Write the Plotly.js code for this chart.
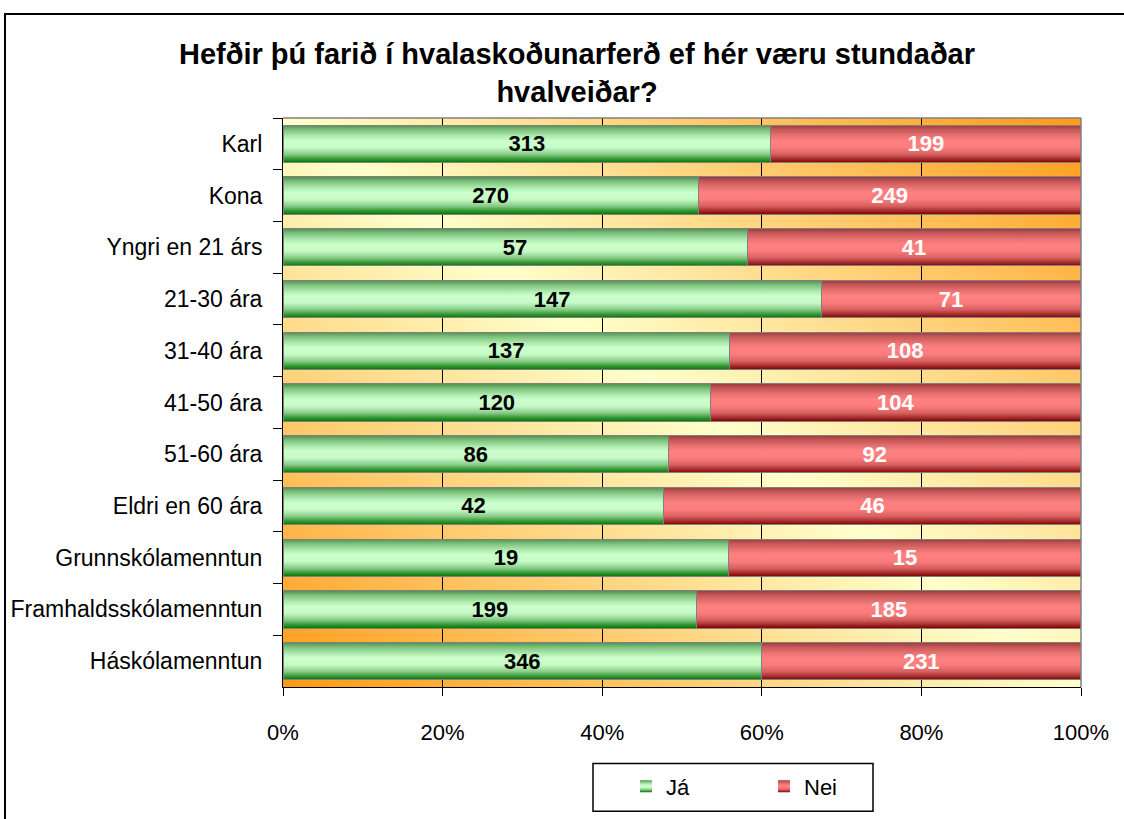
<!DOCTYPE html>
<html><head><meta charset="utf-8">
<script src="https://cdn.plot.ly/plotly-3.0.1.min.js"></script>
<style>
html,body{margin:0;padding:0;background:#fff;overflow:hidden;}
#chart{position:absolute;left:0;top:0;width:1124px;height:819px;}
#frame{position:absolute;left:4px;top:13px;width:1140px;height:830px;border-top:2px solid #000;border-left:2px solid #000;pointer-events:none;}
</style></head><body>
<div id="chart"></div><div id="frame"></div>
<script>
const categories = ['Karl','Kona','Yngri en 21 árs','21-30 ára','31-40 ára','41-50 ára','51-60 ára','Eldri en 60 ára','Grunnskólamenntun','Framhaldsskólamenntun','Háskólamenntun'];
const jaCounts  = [313,270,57,147,137,120,86,42,19,199,346];
const neiCounts = [199,249,41,71,108,104,92,46,15,185,231];
const seriesNames = ['Já','Nei'];
const xTickVals = [0,20,40,60,80,100];
const xTickText = ['0%','20%','40%','60%','80%','100%'];
const titleText = 'Hefðir þú farið í hvalaskoðunarferð ef hér væru stundaðar<br>hvalveiðar?';

const totals = jaCounts.map((v,i)=>v+neiCounts[i]);
const jaPct = jaCounts.map((v,i)=>v/totals[i]*100);
const neiPct = neiCounts.map((v,i)=>v/totals[i]*100);

const FONT = 'Liberation Sans, Arial, sans-serif';

const traces = [
  {type:'bar', orientation:'h', name:seriesNames[0], y:categories, x:jaPct, customdata:jaCounts,
   texttemplate:'%{customdata}', textposition:'inside', insidetextanchor:'middle',
   textfont:{family:FONT, size:22, color:'#000', weight:'bold'},
   marker:{color:'#ccffcc', line:{color:'#808080', width:1}}, hoverinfo:'skip'},
  {type:'bar', orientation:'h', name:seriesNames[1], y:categories, x:neiPct, customdata:neiCounts,
   texttemplate:'%{customdata}', textposition:'inside', insidetextanchor:'middle',
   textfont:{family:FONT, size:22, color:'#fff', weight:'bold'},
   marker:{color:'#ff8080', line:{color:'#808080', width:1}}, hoverinfo:'skip'}
];

const bgSvg = "<svg xmlns='http://www.w3.org/2000/svg' width='100' height='100' viewBox='0 0 100 100' preserveAspectRatio='none'>" +
  "<defs><linearGradient id='b' x1='1' y1='0' x2='0' y2='1'>" +
  "<stop offset='0' stop-color='#ff9914'/><stop offset='0.5' stop-color='#ffffcc'/><stop offset='1' stop-color='#ff9914'/>" +
  "</linearGradient></defs><rect width='100' height='100' fill='url(#b)'/></svg>";

const PL=283, PR=1081, PT=118, PB=690;
const px2x = v => (v-PL)/(PR-PL);
const px2y = v => (PB-v)/(PB-PT);

const layout = {
  width:1124, height:819,
  paper_bgcolor:'rgba(0,0,0,0)', plot_bgcolor:'rgba(0,0,0,0)',
  margin:{l:PL, r:1124-PR, t:PT, b:819-PB},
  barmode:'stack', bargap:0.28,
  font:{family:FONT, size:22, color:'#000'},
  title:{text:titleText, font:{family:FONT, size:29, color:'#000', weight:'bold'},
         x:577/1124, xref:'container', xanchor:'center', y:1-64/819, yref:'container', yanchor:'top'},
  xaxis:{range:[0,100], tickvals:xTickVals, ticktext:xTickText, showgrid:true, gridcolor:'#000', gridwidth:1,
         showline:true, linecolor:'#000', linewidth:1, ticks:'outside', ticklen:8, tickcolor:'#000',
         tickfont:{family:FONT, size:22, color:'#000'}, ticklabelstandoff:18, zeroline:false, fixedrange:true},
  yaxis:{type:'category', autorange:'reversed', tickson:'boundaries', ticks:'outside', ticklen:9, tickcolor:'#000',
         showline:true, linecolor:'#000', linewidth:1, showgrid:false, zeroline:false,
         tickfont:{family:FONT, size:23, color:'#000'}, ticklabelstandoff:15, fixedrange:true},
  legend:{orientation:'h', x:px2x(626), xanchor:'left', y:px2y(790), yanchor:'middle',
          bgcolor:'rgba(0,0,0,0)', borderwidth:0, font:{family:FONT, size:22, color:'#000'},
          entrywidth:93, traceorder:'normal'},
  images:[{source:'data:image/svg+xml;utf8,'+encodeURIComponent(bgSvg), xref:'paper', yref:'paper',
           x:0, y:1, sizex:1, sizey:1, xanchor:'left', yanchor:'top', sizing:'stretch', layer:'below'}],
  shapes:[
    {type:'line', xref:'paper', yref:'paper', x0:0, x1:1, y0:1, y1:1, line:{color:'#808080', width:1.5}, layer:'above'},
    {type:'line', xref:'paper', yref:'paper', x0:1, x1:1, y0:0, y1:1, line:{color:'#808080', width:1.5}, layer:'above'},
    {type:'rect', xref:'paper', yref:'paper', x0:px2x(593), x1:px2x(873), y0:px2y(815), y1:px2y(767),
     line:{color:'#000', width:1.5}, fillcolor:'#fff', layer:'below'}
  ]
};

function applyGradients(gd){
  const ns='http://www.w3.org/2000/svg';
  const svg = gd.querySelector('svg.main-svg');
  let defs = svg.querySelector('defs');
  if(!defs){ defs=document.createElementNS(ns,'defs'); svg.insertBefore(defs, svg.firstChild); }
  function grad(id, stops){
    const g=document.createElementNS(ns,'linearGradient');
    g.setAttribute('id',id); g.setAttribute('x1','0'); g.setAttribute('y1','0'); g.setAttribute('x2','0'); g.setAttribute('y2','1');
    stops.forEach(([o,c])=>{const s=document.createElementNS(ns,'stop'); s.setAttribute('offset',o); s.setAttribute('stop-color',c); g.appendChild(s);});
    defs.appendChild(g);
  }
  grad('gJa', [[0,'#4f8f4f'],[0.12,'#7cbf7c'],[0.3,'#b0ecb0'],[0.42,'#ccffcc'],[0.6,'#c6fac6'],[0.78,'#88cc88'],[0.9,'#3a9a3a'],[1,'#007a00']]);
  grad('gNei',[[0,'#9a3a3a'],[0.12,'#c65858'],[0.3,'#ec7474'],[0.42,'#ff8080'],[0.6,'#fa7c7c'],[0.78,'#d96060'],[0.9,'#a83030'],[1,'#800000']]);
  const ids=['gJa','gNei'];
  gd.querySelectorAll('.barlayer .trace').forEach((t,i)=>{
    t.querySelectorAll('.point path').forEach(p=>{ p.style.fill='url(#'+ids[i]+')'; });
  });
  gd.querySelectorAll('.legend .traces').forEach((t,i)=>{
    t.querySelectorAll('.legendpoints path').forEach(p=>{ p.style.fill='url(#'+ids[i]+')'; p.style.stroke='none'; });
  });
}

const gd = document.getElementById('chart');
Plotly.newPlot(gd, traces, layout, {staticPlot:true, displayModeBar:false}).then(()=>applyGradients(gd));
</script>
</body></html>
